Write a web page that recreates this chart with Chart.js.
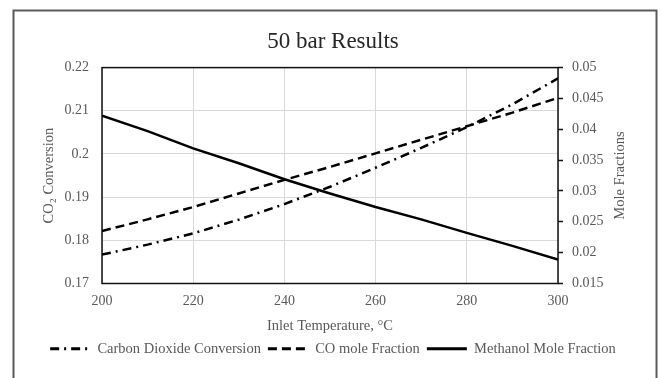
<!DOCTYPE html>
<html>
<head>
<meta charset="utf-8">
<script src="https://cdn.jsdelivr.net/npm/chart.js@4"></script>
<style>
  html, body { margin: 0; padding: 0; background: #fff; }
  #wrap { width: 662px; height: 378px; }
</style>
</head>
<body>
<div id="wrap"><canvas id="resultsChart" width="662" height="378"></canvas></div>
<script>
// inlet temperature, °C
const temps = [200, 210, 220, 230, 240, 250, 260, 270, 280, 290, 300];

// CO2 conversion (left axis)
const co2Conversion = [0.1767, 0.1790, 0.1816, 0.1848, 0.1884, 0.1924, 0.1968, 0.2014, 0.2062, 0.2115, 0.2175];
// mole fractions (right axis)
const coMoleFrac = [0.0235, 0.0254, 0.0274, 0.0296, 0.0318, 0.0339, 0.0361, 0.0383, 0.0405, 0.0427, 0.0451];
const methanolMoleFrac = [0.0422, 0.0397, 0.0369, 0.0345, 0.0319, 0.0296, 0.0274, 0.0254, 0.0232, 0.0211, 0.0189];

const seriesNames = ['Carbon Dioxide Conversion', 'CO mole Fraction', 'Methanol Mole Fraction'];
const rightAxisTitle = 'Mole Fractions';

const textColor = '#595959';
const serif = "'Liberation Serif', 'Times New Roman', serif";

const toPoints = (ys) => temps.map((t, i) => ({ x: t, y: ys[i] }));
const trimNum = (v) => String(+Number(v).toFixed(4));

// outer frame, plot-area outline, and the right axis title (reads bottom-to-top)
const framePlugin = {
  id: 'frame',
  beforeDraw(chart) {
    const c = chart.ctx;
    c.save();
    c.fillStyle = '#fff';
    c.fillRect(0, 0, chart.width, chart.height);
    c.strokeStyle = '#5a5a5a';
    c.lineWidth = 2;
    c.strokeRect(13.5, 10.5, 643, 400);
    c.restore();
  },
  beforeDatasetsDraw(chart) {
    const { left, top, right, bottom } = chart.chartArea;
    const c = chart.ctx;
    c.save();
    c.strokeStyle = '#111';
    c.lineWidth = 1.5;
    c.strokeRect(left, top, right - left, bottom - top);
    c.restore();
  },
  afterDraw(chart) {
    const { top, bottom } = chart.chartArea;
    const c = chart.ctx;
    c.save();
    c.translate(620, (top + bottom) / 2);
    c.rotate(-Math.PI / 2);
    c.fillStyle = textColor;
    c.font = '14.5px ' + serif;
    c.textAlign = 'center';
    c.textBaseline = 'middle';
    c.fillText(rightAxisTitle, 0, 0);
    c.restore();
  }
};

const ctx = document.getElementById('resultsChart').getContext('2d');
new Chart(ctx, {
  type: 'line',
  data: {
    datasets: [
      {
        label: seriesNames[0],
        data: toPoints(co2Conversion),
        yAxisID: 'y',
        borderColor: '#000',
        borderWidth: 2.5,
        borderDash: [9, 5, 2, 5],
        pointRadius: 0,
        tension: 0
      },
      {
        label: seriesNames[1],
        data: toPoints(coMoleFrac),
        yAxisID: 'y1',
        borderColor: '#000',
        borderWidth: 2.5,
        borderDash: [9, 5],
        pointRadius: 0,
        tension: 0
      },
      {
        label: seriesNames[2],
        data: toPoints(methanolMoleFrac),
        yAxisID: 'y1',
        borderColor: '#000',
        borderWidth: 2.5,
        pointRadius: 0,
        tension: 0
      }
    ]
  },
  options: {
    responsive: false,
    animation: false,
    devicePixelRatio: 1,
    layout: { padding: { left: 30, right: 26, top: 20, bottom: 12 } },
    plugins: {
      title: {
        display: true,
        text: '50 bar Results',
        color: '#262626',
        font: { family: serif, size: 23, weight: 'normal' },
        padding: { top: 8, bottom: 12 }
      },
      legend: {
        position: 'bottom',
        labels: {
          color: textColor,
          font: { family: serif, size: 14.5 },
          usePointStyle: true,
          pointStyle: 'line',
          pointStyleWidth: 40,
          padding: 7,
          generateLabels(chart) {
            return chart.data.datasets.map((ds, i) => ({
              text: ds.label,
              datasetIndex: i,
              fillStyle: '#000',
              strokeStyle: '#000',
              fontColor: textColor,
              lineWidth: 3,
              lineDash: ds.borderDash || [],
              pointStyle: 'line',
              hidden: false
            }));
          }
        }
      },
      tooltip: { enabled: false }
    },
    scales: {
      x: {
        type: 'linear',
        min: 200,
        max: 300,
        ticks: {
          stepSize: 20,
          color: textColor,
          font: { family: serif, size: 14 },
          padding: 9
        },
        grid: { color: '#d9d9d9', drawTicks: false },
        border: { display: false },
        title: {
          display: true,
          text: 'Inlet Temperature, °C',
          color: textColor,
          font: { family: serif, size: 14.5 },
          padding: { top: 5, bottom: 0 }
        },
        afterFit(scale) { scale.height = 51; }
      },
      y: {
        type: 'linear',
        position: 'left',
        min: 0.17,
        max: 0.22,
        ticks: {
          stepSize: 0.01,
          color: textColor,
          font: { family: serif, size: 14 },
          padding: 13,
          callback: trimNum
        },
        grid: { color: '#d9d9d9', drawTicks: false },
        border: { display: false },
        title: {
          display: true,
          text: 'CO₂ Conversion',
          color: textColor,
          font: { family: serif, size: 14.5 },
          padding: { top: 10, bottom: 0 }
        },
        afterFit(scale) { scale.width = 72; }
      },
      y1: {
        type: 'linear',
        position: 'right',
        min: 0.015,
        max: 0.05,
        ticks: {
          stepSize: 0.005,
          color: textColor,
          font: { family: serif, size: 14 },
          padding: 9,
          callback: trimNum
        },
        grid: {
          drawOnChartArea: false,
          drawTicks: true,
          tickLength: 5,
          tickColor: '#111',
          tickWidth: 1.5
        },
        border: { display: false },
        afterFit(scale) { scale.width = 78; }
      }
    }
  },
  plugins: [framePlugin]
});
</script>
</body>
</html>
